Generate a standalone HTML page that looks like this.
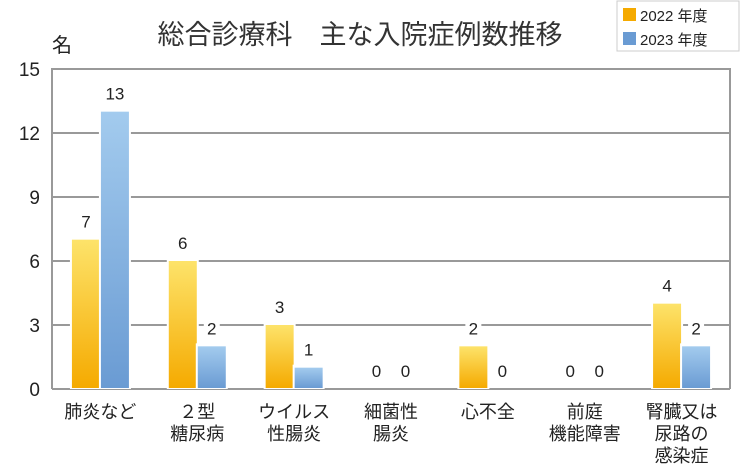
<!DOCTYPE html>
<html><head><meta charset="utf-8"><style>
body{margin:0;background:#fff;}
svg text{font-family:"Liberation Sans","Noto Sans CJK JP",sans-serif;}
</style></head><body>
<svg width="740" height="465" viewBox="0 0 740 465" xmlns="http://www.w3.org/2000/svg">
<defs>
<linearGradient id="gy" x1="0" y1="0" x2="0" y2="1"><stop offset="0" stop-color="#fde36a"/><stop offset="1" stop-color="#f5aa00"/></linearGradient>
<linearGradient id="gb" x1="0" y1="0" x2="0" y2="1"><stop offset="0" stop-color="#a3cbee"/><stop offset="1" stop-color="#6a9bd3"/></linearGradient>
</defs>
<text x="360" y="44" font-size="27" fill="#333" text-anchor="middle">総合診療科　主な入院症例数推移</text>
<text x="52" y="52" font-size="20" fill="#222">名</text>
<g>
<rect x="617" y="1" width="122" height="50" fill="#fff" stroke="#ccc"/>
<rect x="623" y="8" width="13" height="13" fill="#f5aa00"/>
<text x="640" y="21" font-size="15" fill="#222">2022 年度</text>
<rect x="623" y="32" width="13" height="13" fill="#6a9bd3"/>
<text x="640" y="45" font-size="15" fill="#222">2023 年度</text>
</g>
<g id="plot"></g>
</svg>
<script>
const categories=[["肺炎など"],["２型","糖尿病"],["ウイルス","性腸炎"],["細菌性","腸炎"],["心不全"],["前庭","機能障害"],["腎臓又は","尿路の","感染症"]];
const series2022=[7,6,3,0,2,0,4];
const series2023=[13,2,1,0,0,0,2];
const yTicks=[0,3,6,9,12,15];
const L=52,R=730,T=69,B=389,yMax=15;
const y=v=>B-(B-T)*v/yMax;
const gw=(R-L)/categories.length;
const bw=28;
const ns="http://www.w3.org/2000/svg";
const g=document.getElementById('plot');
function mk(t,a){const e=document.createElementNS(ns,t);for(const k in a)e.setAttribute(k,a[k]);g.appendChild(e);return e;}
yTicks.forEach(v=>{
 if(v>0&&v<yMax){const l=mk('line',{x1:L,x2:R,y1:y(v),y2:y(v),stroke:'#999','stroke-width':2});
 
 }
 const t=mk('text',{x:40,y:y(v)+7,'font-size':19,fill:'#222','text-anchor':'end'});t.textContent=v;
 
 
});
const fr=mk('path',{d:`M${L} ${B}V${T}H${R}V${B}`,fill:'none',stroke:'#999','stroke-width':2});


const bl=mk('line',{x1:L,x2:R,y1:B,y2:B,stroke:'#999','stroke-width':2});


categories.forEach((c,i)=>{
 const cx=L+gw*(i+0.5);
 [[series2022[i],'url(#gy)',cx-bw-0.5,'bar-2022'],[series2023[i],'url(#gb)',cx+0.5,'bar-2023']].forEach(([v,f,x,n])=>{
  if(v>0){
   const bg=mk('rect',{x:x-2,y:y(v)-3,width:bw+4,height:B-y(v)+3,fill:'#fff'});
   
   
   const r=mk('rect',{x:x,y:y(v),width:bw,height:B-y(v)-1,fill:f});
   
   
  }
  const bg2=mk('rect',{x:x+bw/2-8,y:y(v)-32,width:16,height:24,fill:'#fff'});
  
  
  const t=mk('text',{x:x+bw/2,y:y(v)-12,'font-size':17,fill:'#222','text-anchor':'middle'});t.textContent=v;
  
  
 });
 c.forEach((ln,j)=>{
  const t=mk('text',{x:cx,y:418+j*22,'font-size':18,fill:'#222','text-anchor':'middle'});t.textContent=ln;
  
  
 });
});
</script>
</body></html>
